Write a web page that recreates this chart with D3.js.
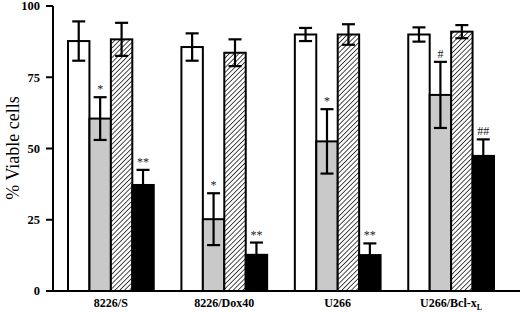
<!DOCTYPE html>
<html lang="en">
<head>
<meta charset="UTF-8">
<title>% Viable cells</title>
<script src="https://d3js.org/d3.v7.min.js"></script>
<style>
    body { margin: 0; background: #fff; }
    svg { font-family: "Liberation Serif", "Times New Roman", serif; }
    .tick-label, .cat-label { font-weight: bold; font-size: 12.5px; }
    .cat-label { font-size: 12px; }
</style>
</head>
<body>
<div id="chart"></div>
<script>
// data
var categories = ["8226/S", "8226/Dox40", "U266", "U266/Bcl-xL"];
var series = ["open", "gray", "hatched", "black"];
var means = {
    open:    [87.7, 85.6, 90.0, 90.0],
    gray:    [60.5, 25.2, 52.5, 68.8],
    hatched: [88.3, 83.6, 90.0, 91.0],
    black:   [37.2, 12.7, 12.6, 47.4]
};
var errors = {
    open:    [6.9, 4.8, 2.3, 2.5],
    gray:    [7.5, 9.1, 11.3, 11.6],
    hatched: [5.8, 4.7, 3.6, 2.3],
    black:   [5.3, 4.3, 4.1, 5.8]
};
var marks = {
    gray:  ["*", "*", "*", "#"],
    black: ["**", "**", "**", "##"]
};
var yTicks = [0, 25, 50, 75, 100];

var width = 520, height = 312;
var svg = d3.select("#chart").append("svg")
    .attr("width", width)
    .attr("height", height);

var defs = svg.append("defs");
var pat = defs.append("pattern")
    .attr("id", "hatch")
    .attr("patternUnits", "userSpaceOnUse")
    .attr("width", 3.4)
    .attr("height", 3.4)
    .attr("patternTransform", "rotate(45)");
pat.append("rect").attr("width", 3.4).attr("height", 3.4).attr("fill", "#fff");
pat.append("line")
    .attr("x1", 0).attr("y1", 0).attr("x2", 0).attr("y2", 3.4)
    .attr("stroke", "#000").attr("stroke-width", 1.4);

var fills = { open: "#fff", gray: "#c9c9c9", hatched: "url(#hatch)", black: "#000" };

var y = d3.scaleLinear().domain([0, 100]).range([291, 6]);
var x0 = d3.scaleBand().domain(categories).range([68, 494]).paddingInner(0.244).paddingOuter(0);
var x1 = d3.scaleBand().domain(series).range([0, x0.bandwidth()]).padding(0);

// axes
svg.append("line").attr("x1", 53).attr("x2", 53).attr("y1", y(100)).attr("y2", y(0))
    .attr("stroke", "#000").attr("stroke-width", 2);
svg.append("line").attr("x1", 52).attr("x2", width).attr("y1", y(0)).attr("y2", y(0))
    .attr("stroke", "#000").attr("stroke-width", 2);

var tick = svg.append("g").selectAll("g").data(yTicks).enter().append("g");
tick.append("line")
    .attr("x1", 46).attr("x2", 53)
    .attr("y1", d => y(d)).attr("y2", d => y(d))
    .attr("stroke", "#000").attr("stroke-width", 2);
tick.append("text")
    .attr("class", "tick-label")
    .attr("x", 40).attr("y", d => y(d))
    .attr("dy", "0.35em")
    .attr("text-anchor", "end")
    .text(d => d);

svg.append("text")
    .attr("transform", "translate(13," + 148 + ") rotate(-90)")
    .attr("text-anchor", "middle")
    .attr("dy", "0.35em")
    .style("font-size", "18px")
    .text("% Viable cells");

// bars
var groups = svg.append("g").selectAll("g").data(categories).enter().append("g")
    .attr("transform", d => "translate(" + x0(d) + ",0)");

series.forEach(function(s) {
    groups.append("rect")
        .attr("x", x1(s))
        .attr("width", x1.bandwidth())
        .attr("y", (d, i) => y(means[s][i]))
        .attr("height", (d, i) => y(0) - y(means[s][i]))
        .attr("fill", fills[s])
        .attr("stroke", "#000")
        .attr("stroke-width", 2);

    var cx = x1(s) + x1.bandwidth() / 2;
    var cap = 6.5;
    var eb = groups.append("g");
    eb.append("line")
        .attr("x1", cx).attr("x2", cx)
        .attr("y1", (d, i) => y(means[s][i] + errors[s][i]))
        .attr("y2", (d, i) => y(means[s][i] - errors[s][i]));
    eb.append("line")
        .attr("x1", cx - cap).attr("x2", cx + cap)
        .attr("y1", (d, i) => y(means[s][i] + errors[s][i]))
        .attr("y2", (d, i) => y(means[s][i] + errors[s][i]));
    eb.append("line")
        .attr("x1", cx - cap).attr("x2", cx + cap)
        .attr("y1", (d, i) => y(means[s][i] - errors[s][i]))
        .attr("y2", (d, i) => y(means[s][i] - errors[s][i]));
    eb.selectAll("line").attr("stroke", "#000").attr("stroke-width", 2.2);

    if (marks[s]) {
        groups.append("text")
            .attr("x", cx)
            .attr("y", (d, i) => y(means[s][i] + errors[s][i]) - 4)
            .attr("text-anchor", "middle")
            .style("font-size", "12px")
            .attr("fill", "#222")
            .text((d, i) => marks[s][i]);
    }
});

// category labels
var cat = svg.append("g").selectAll("text").data(categories).enter().append("text")
    .attr("class", "cat-label")
    .attr("x", d => x0(d) + x0.bandwidth() / 2)
    .attr("y", 307)
    .attr("text-anchor", "middle");
cat.each(function(d) {
    var t = d3.select(this);
    if (d === "U266/Bcl-xL") {
        t.append("tspan").text("U266/Bcl-x");
        t.append("tspan").attr("dy", 3).style("font-size", "8px").text("L");
    } else {
        t.text(d);
    }
});
</script>
</body>
</html>
